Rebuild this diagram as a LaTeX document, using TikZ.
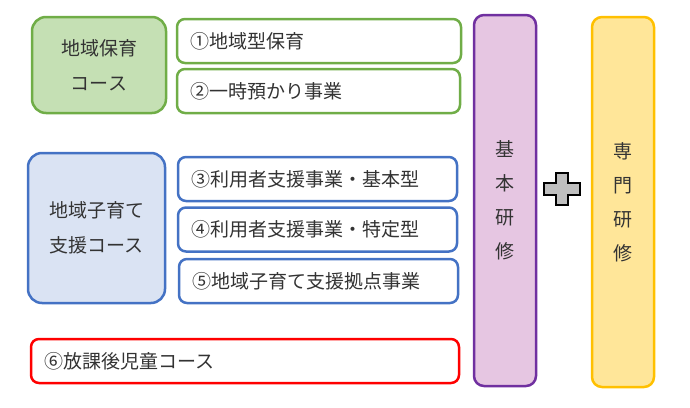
\documentclass[tikz,border=0pt]{standalone}
\usepackage{fontspec}
\setmainfont{Noto Sans CJK JP}
\usepackage{tikz}

\definecolor{hoikuLine}{HTML}{70AD47}
\definecolor{hoikuFill}{HTML}{C5E0B4}
\definecolor{shienLine}{HTML}{4472C4}
\definecolor{shienFill}{HTML}{DAE3F3}
\definecolor{jidoLine}{HTML}{FF0000}
\definecolor{kihonLine}{HTML}{7030A0}
\definecolor{kihonFill}{HTML}{E6C6E2}
\definecolor{senmonLine}{HTML}{FFC000}
\definecolor{senmonFill}{HTML}{FFE699}
\definecolor{plusFill}{HTML}{BFBFBF}

\tikzset{
  coursebox/.style={draw, line width=2.5pt, rounded corners=14pt, align=center,
    font=\fontsize{19}{35}\selectfont, text=black!80},
  itembox/.style={draw, line width=2.5pt, rounded corners=8pt, fill=white,
    minimum height=44pt, inner xsep=13pt, align=left,
    font=\fontsize{19}{22}\selectfont, text=black!80},
  trainbox/.style={draw, line width=2.5pt, rounded corners=10pt, align=center,
    minimum width=62pt, font=\fontsize{19}{34}\selectfont, text=black!80}
}

\begin{document}
\begin{tikzpicture}[x=1pt, y=-1pt]
    \useasboundingbox (0,0) rectangle (690,407);

    % 地域保育コース
    \node[coursebox, draw=hoikuLine, fill=hoikuFill, minimum width=134pt, minimum height=96pt]
      (hoiku) at (99,65) {地域保育\\コース};
    \node[itembox, draw=hoikuLine, text width=258pt] (item1) at (319,41) {①地域型保育};
    \node[itembox, draw=hoikuLine, text width=257pt] (item2) at (318.5,91) {②一時預かり事業};

    % 地域子育て支援コース
    \node[coursebox, draw=shienLine, fill=shienFill, minimum width=137pt, minimum height=150pt]
      (shien) at (96.5,228) {地域子育て\\支援コース};
    \node[itembox, draw=shienLine, text width=253pt] (item3) at (317.5,179) {③利用者支援事業・基本型};
    \node[itembox, draw=shienLine, text width=253pt] (item4) at (317.5,229.5) {④利用者支援事業・特定型};
    \node[itembox, draw=shienLine, text width=253pt] (item5) at (318.5,281) {⑤地域子育て支援拠点事業};

    % 放課後児童コース
    \node[itembox, draw=jidoLine, text width=402pt] (jido) at (245,361) {⑥放課後児童コース};

    % 基本研修 + 専門研修
    \node[trainbox, draw=kihonLine, fill=kihonFill, minimum height=371pt]
      (kihon) at (505,200.5) {基\\本\\研\\修};
    \node[trainbox, draw=senmonLine, fill=senmonFill, minimum height=370pt]
      (senmon) at (623,202) {専\\門\\研\\修};

    \draw[line width=1.8pt, fill=plusFill, line join=miter]
      (556,173) -- (568,173) -- (568,183) -- (580,183) -- (580,195) -- (568,195)
      -- (568,205) -- (556,205) -- (556,195) -- (544,195) -- (544,183) -- (556,183) -- cycle;
\end{tikzpicture}
\end{document}
